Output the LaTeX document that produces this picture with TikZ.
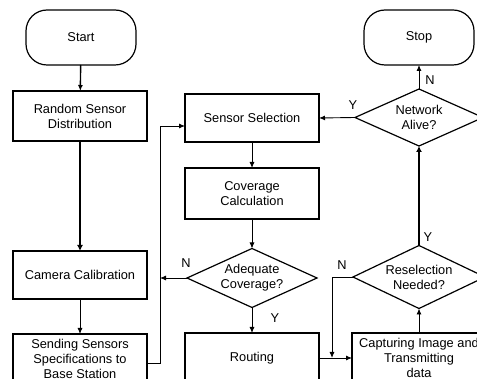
\documentclass[tikz,border=0pt]{standalone}
\usepackage{fontspec}
\setmainfont{Liberation Sans}
\usetikzlibrary{arrows.meta,shapes.geometric,calc}
\begin{document}
\begin{tikzpicture}[x=1pt,y=-1pt,
  every node/.style={font=\fontsize{12.8}{15}\selectfont, align=center, inner sep=0pt, outer sep=0pt},
  procbox/.style={draw, line width=1.2pt, minimum width=134pt},
  termbox/.style={draw, line width=1.2pt, rounded corners=21pt, minimum width=110pt, minimum height=55pt},
  decbox/.style={draw, diamond, line width=1.2pt, aspect=2},
  conn/.style={line width=0.9pt, -{Latex[length=6pt,width=5pt]}},
  thickconn/.style={line width=2.6pt, -{Latex[length=6pt,width=6pt]}},
  lab/.style={font=\fontsize{12.8}{15}\selectfont}]
\useasboundingbox (0,0) rectangle (477,379);
\clip (0,0) rectangle (477,379);
% nodes
\node[termbox] (start) at (81,37.5) {Start};
\node[procbox, minimum height=50pt] (rand) at (80,116) {Random Sensor\\Distribution};
\node[procbox, minimum height=48pt] (cam) at (80,275) {Camera Calibration};
\node[procbox, minimum height=50pt] (send) at (80,359) {Sending Sensors\\Specifications to\\Base Station};
\node[procbox, minimum height=48pt] (sel) at (252,118) {Sensor Selection};
\node[procbox, minimum height=51pt] (cov) at (252,193.5) {Coverage\\Calculation};
\node[decbox, minimum width=130pt, minimum height=59pt] (adeq) at (252,278) {Adequate\\Coverage?};
\node[procbox, line width=1.7pt, minimum height=50pt] (rout) at (252,358) {Routing};
\node[procbox, minimum height=50pt] (capt) at (419,358) {Capturing Image and\\Transmitting\\data};
\node[decbox, minimum width=132pt, minimum height=63pt] (resel) at (419,277) {Reselection\\Needed?};
\node[decbox, minimum width=128pt, minimum height=57pt] (net) at (419,117.5) {Network\\Alive?};
\node[termbox] (stop) at (419,37.5) {Stop};
% junction coordinates
\coordinate (sendout) at ($(send.east)+(0,4)$);
\coordinate (lc) at (160,363);
\coordinate (lt) at (160,126);
\coordinate (adeqin) at (160,278);
\coordinate (rc) at (332,277);
\coordinate (rj) at (332,358);
% connectors
\draw[conn, line width=1.4pt] (start) -- (rand);
\draw[thickconn] (rand) -- (cam);
\draw[conn] (cam) -- (send);
\draw[conn] (sendout) -- (lc) -- (lt) -- (lt -| sel.west);
\draw[conn] (adeq.west) -- (adeqin);
\draw[conn] (sel) -- (cov);
\draw[conn] (cov) -- (adeq.north);
\draw[conn] (adeq.south) -- (rout);
\draw[conn] (rout.east) -- (capt.west);
\draw[conn] (resel.west) -- (rc) -- (rj);
\draw[conn] (capt.north) -- (resel.south);
\draw[thickconn] (resel.north) -- (net.south);
\draw[conn] (net.north) -- (stop);
\draw[conn] (net.west) -- (sel.east);
% labels
\node[lab] (n1) at (186,263) {N};
\node[lab] (y1) at (275,318) {Y};
\node[lab] (n2) at (342,265) {N};
\node[lab] (y2) at (428,237) {Y};
\node[lab] (y3) at (353,105) {Y};
\node[lab] (n3) at (430,80) {N};
\end{tikzpicture}
\end{document}
